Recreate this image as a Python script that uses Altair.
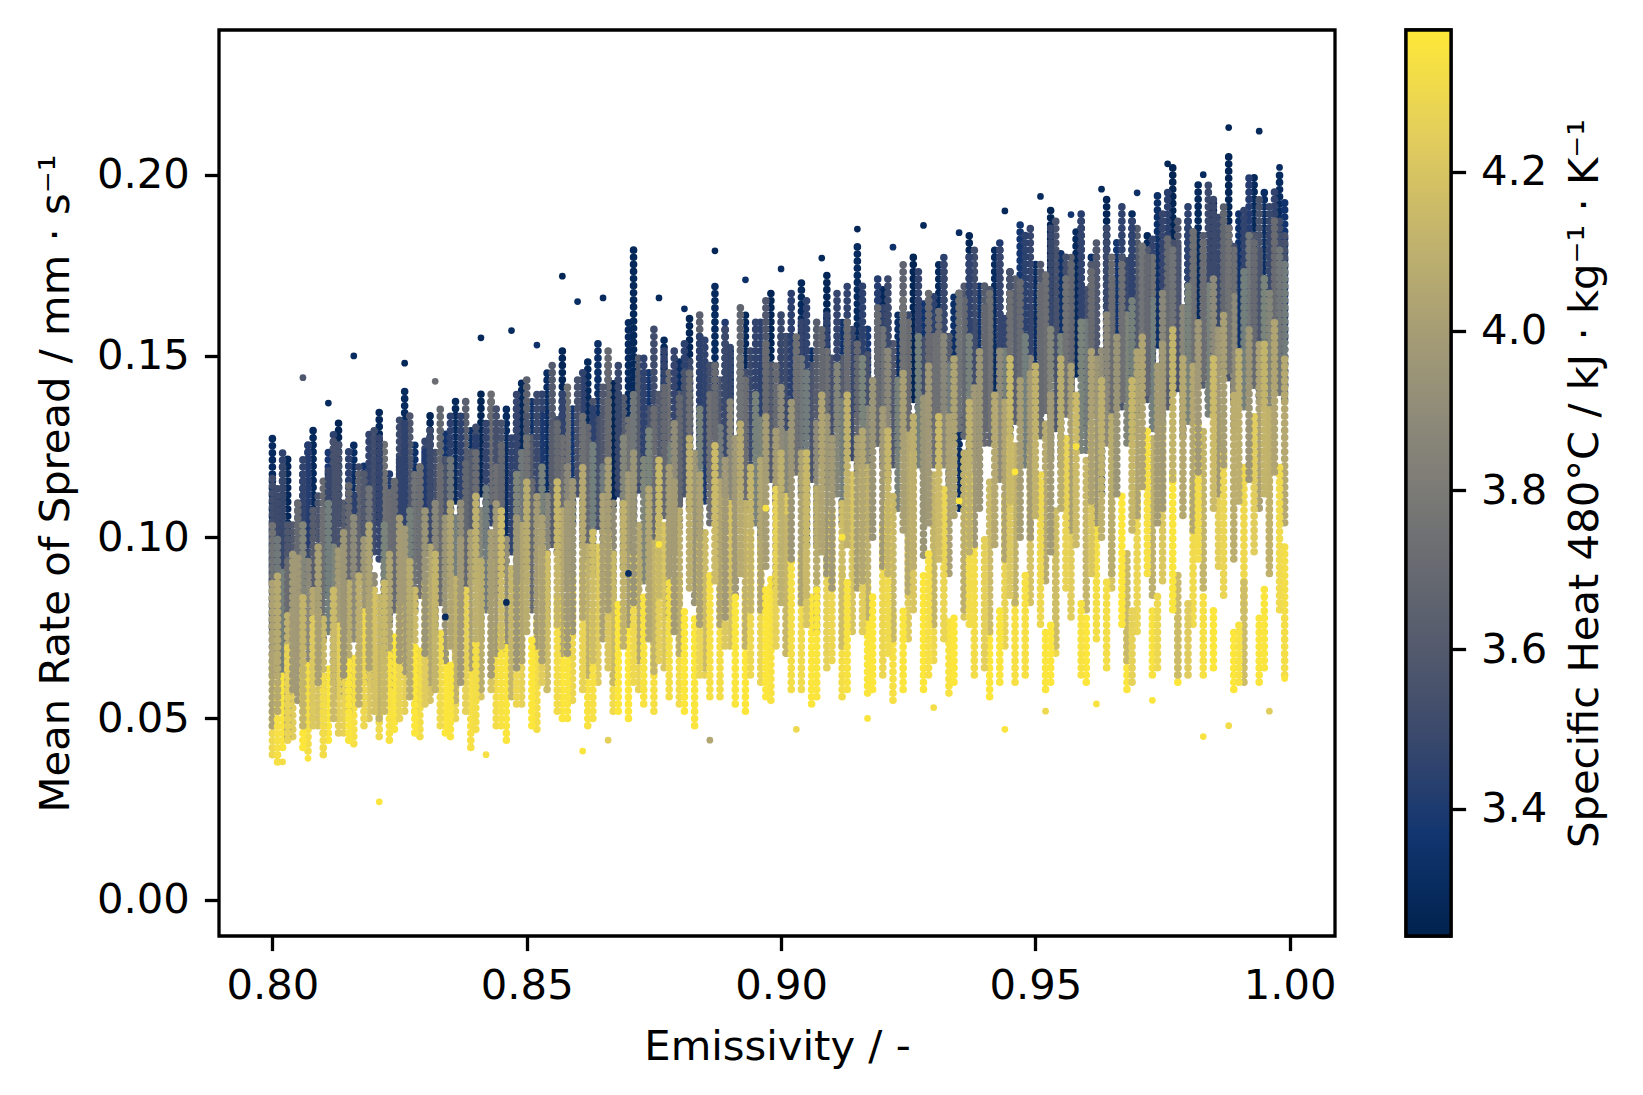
import altair as alt
import pandas as pd

# ---------------------------------------------------------------------------
# Data.
# Each streak: (emissivity x1000, specific heat [kJ/kg/K], spread low x1000, spread high x1000)
# ---------------------------------------------------------------------------
navy_streaks = [
    (800, 3.30, 88, 128), (801, 3.36, 62, 112), (803, 3.35, 48, 78), (803, 3.27, 96, 122),
    (806, 3.34, 84, 118), (808, 3.29, 100, 131), (811, 3.38, 90, 124), (813, 3.26, 104, 133),
    (816, 3.31, 92, 127), (818, 3.35, 98, 121), (821, 3.28, 105, 136), (823, 3.40, 88, 119),
    (826, 3.30, 101, 141), (828, 3.33, 94, 126), (831, 3.27, 108, 134), (834, 3.36, 99, 129),
    (836, 3.29, 110, 138), (839, 3.32, 96, 131), (841, 3.26, 112, 140), (844, 3.38, 104, 133),
    (846, 3.30, 100, 137), (849, 3.28, 115, 143), (851, 3.35, 106, 139), (854, 3.31, 110, 146),
    (857, 3.27, 118, 152), (859, 3.37, 104, 136), (862, 3.29, 113, 149), (864, 3.33, 120, 154),
    (867, 3.26, 109, 143), (870, 3.30, 118, 160), (871, 3.28, 140, 180), (874, 3.36, 112, 147),
    (877, 3.29, 121, 155), (880, 3.32, 115, 150), (882, 3.27, 125, 161), (885, 3.39, 110, 144),
    (887, 3.30, 128, 170), (890, 3.34, 118, 153), (893, 3.28, 124, 162), (896, 3.31, 114, 149),
    (898, 3.26, 130, 168), (901, 3.37, 120, 157), (904, 3.29, 127, 171), (905, 3.31, 98, 125),
    (906, 3.33, 118, 152), (909, 3.27, 133, 174), (912, 3.35, 122, 160), (915, 3.30, 135, 182),
    (917, 3.38, 126, 158), (920, 3.28, 131, 170), (923, 3.32, 124, 163), (926, 3.26, 138, 178),
    (928, 3.36, 129, 165), (931, 3.29, 134, 176), (934, 3.33, 127, 168), (935, 3.31, 108, 135),
    (937, 3.27, 142, 184), (939, 3.35, 132, 170), (942, 3.30, 138, 181), (945, 3.28, 130, 174),
    (947, 3.37, 143, 188), (950, 3.31, 136, 177), (953, 3.26, 147, 192), (955, 3.34, 139, 180),
    (958, 3.29, 145, 186), (961, 3.32, 138, 179), (963, 3.27, 112, 140), (964, 3.27, 150, 195),
    (966, 3.36, 142, 183), (969, 3.30, 148, 190), (972, 3.28, 140, 185), (974, 3.33, 153, 196),
    (977, 3.26, 147, 203), (980, 3.35, 144, 188), (982, 3.29, 156, 199), (985, 3.31, 149, 194),
    (988, 3.27, 152, 206), (990, 3.34, 146, 190), (993, 3.28, 158, 201), (995, 3.32, 150, 196),
    (998, 3.30, 143, 201), (999, 3.36, 155, 194),
]

dusk_streaks = [
    (802, 3.48, 92, 120), (805, 3.62, 80, 110), (807, 3.41, 98, 126), (810, 3.70, 86, 116),
    (812, 3.55, 95, 128), (815, 3.44, 100, 124), (817, 3.66, 88, 118), (820, 3.52, 96, 130),
    (822, 3.74, 102, 127), (825, 3.46, 90, 122), (827, 3.58, 106, 135), (830, 3.40, 96, 124),
    (833, 3.68, 100, 136), (835, 3.50, 92, 120), (838, 3.63, 108, 139), (840, 3.43, 98, 128),
    (843, 3.72, 110, 141), (845, 3.56, 102, 132), (848, 3.47, 106, 140), (850, 3.65, 112, 144),
    (853, 3.39, 104, 135), (855, 3.60, 116, 148), (858, 3.75, 108, 142), (861, 3.45, 114, 146),
    (863, 3.57, 106, 138), (866, 3.69, 118, 152), (868, 3.42, 112, 145), (872, 3.61, 116, 150),
    (875, 3.51, 124, 158), (878, 3.73, 114, 146), (881, 3.44, 120, 154), (884, 3.64, 126, 162),
    (886, 3.53, 116, 149), (889, 3.40, 122, 160), (892, 3.67, 128, 164), (894, 3.49, 118, 152),
    (897, 3.59, 126, 166), (900, 3.71, 120, 156), (902, 3.43, 130, 168), (907, 3.62, 124, 160),
    (910, 3.54, 118, 150), (913, 3.46, 128, 170), (916, 3.70, 122, 158), (919, 3.41, 132, 172),
    (921, 3.58, 126, 164), (924, 3.66, 134, 176), (927, 3.48, 128, 166), (930, 3.74, 120, 156),
    (932, 3.44, 136, 178), (936, 3.60, 130, 170), (938, 3.52, 138, 180), (941, 3.68, 126, 166),
    (943, 3.40, 140, 182), (946, 3.63, 132, 172), (949, 3.47, 142, 186), (951, 3.72, 128, 168),
    (954, 3.55, 144, 188), (957, 3.65, 136, 178), (959, 3.42, 146, 190), (962, 3.59, 140, 182),
    (965, 3.70, 132, 172), (967, 3.45, 148, 192), (970, 3.61, 142, 186), (973, 3.75, 136, 178),
    (976, 3.43, 150, 196), (978, 3.57, 144, 188), (981, 3.67, 140, 184), (984, 3.49, 152, 198),
    (987, 3.62, 146, 192), (989, 3.73, 138, 180), (992, 3.41, 154, 200), (994, 3.56, 148, 194),
    (996, 3.69, 142, 186), (997, 3.46, 156, 197),
]

slate_streaks = [
    (800, 3.52, 75, 118), (802, 3.45, 86, 124), (804, 3.60, 70, 105), (807, 3.48, 90, 127),
    (809, 3.56, 80, 112), (812, 3.44, 93, 129), (814, 3.62, 78, 110), (817, 3.50, 88, 121),
    (819, 3.46, 95, 130), (822, 3.58, 84, 117), (825, 3.49, 97, 133), (827, 3.63, 86, 114),
    (830, 3.47, 99, 128), (832, 3.54, 90, 124), (835, 3.44, 102, 135), (838, 3.60, 92, 121),
    (840, 3.51, 97, 131), (843, 3.46, 104, 138), (845, 3.57, 95, 126), (848, 3.48, 108, 137),
    (851, 3.62, 96, 129), (853, 3.45, 110, 141), (856, 3.53, 101, 133), (858, 3.59, 106, 136),
    (861, 3.47, 112, 145), (864, 3.55, 103, 134), (866, 3.44, 116, 148), (869, 3.61, 107, 139),
    (872, 3.49, 113, 146), (874, 3.56, 104, 136), (877, 3.46, 118, 152), (880, 3.63, 110, 141),
    (882, 3.50, 115, 149), (885, 3.45, 121, 156), (888, 3.58, 112, 144), (890, 3.48, 119, 153),
    (893, 3.54, 114, 147), (896, 3.44, 124, 160), (898, 3.60, 116, 148), (901, 3.51, 122, 157),
    (904, 3.47, 124, 160), (906, 3.57, 116, 148), (909, 3.45, 126, 162), (912, 3.62, 118, 150),
    (914, 3.49, 122, 158), (917, 3.55, 117, 152), (920, 3.46, 128, 164), (922, 3.59, 120, 154),
    (925, 3.48, 126, 162), (928, 3.53, 119, 156), (930, 3.44, 131, 167), (933, 3.61, 122, 157),
    (936, 3.50, 128, 164), (938, 3.46, 123, 160), (941, 3.57, 131, 169), (944, 3.47, 125, 162),
    (946, 3.63, 134, 167), (949, 3.52, 128, 165), (952, 3.45, 135, 174), (954, 3.58, 130, 166),
    (957, 3.49, 137, 176), (960, 3.54, 131, 170), (962, 3.44, 140, 180), (965, 3.60, 133, 171),
    (968, 3.48, 139, 178), (970, 3.56, 134, 173), (973, 3.46, 143, 183), (976, 3.62, 136, 174),
    (978, 3.50, 141, 181), (981, 3.45, 145, 186), (984, 3.57, 138, 177), (986, 3.48, 147, 189),
    (989, 3.53, 141, 182), (992, 3.46, 145, 186), (994, 3.60, 139, 180), (997, 3.49, 148, 191),
    (999, 3.55, 142, 184),
]

slate_streaks_b = [
    (801, 3.50, 80, 115), (803, 3.58, 72, 104), (806, 3.46, 88, 122), (808, 3.62, 76, 108),
    (811, 3.48, 85, 120), (813, 3.55, 92, 126), (816, 3.44, 80, 112), (818, 3.60, 88, 118),
    (821, 3.47, 94, 128), (824, 3.53, 84, 116), (826, 3.45, 98, 132), (829, 3.59, 88, 120),
    (831, 3.49, 96, 130), (834, 3.56, 90, 122), (837, 3.44, 100, 134), (839, 3.61, 92, 124),
    (842, 3.47, 98, 132), (844, 3.54, 104, 136), (847, 3.45, 96, 128), (850, 3.58, 102, 134),
    (852, 3.49, 108, 140), (855, 3.62, 98, 130), (857, 3.46, 106, 140), (860, 3.55, 112, 144),
    (863, 3.44, 104, 136), (865, 3.59, 110, 142), (868, 3.48, 114, 148), (871, 3.53, 106, 140),
    (873, 3.45, 116, 150), (876, 3.60, 108, 140), (879, 3.47, 118, 152), (881, 3.56, 112, 146),
    (884, 3.44, 120, 156), (887, 3.58, 114, 148), (889, 3.49, 122, 158), (892, 3.54, 116, 150),
    (895, 3.46, 124, 160), (897, 3.61, 118, 152), (900, 3.48, 126, 162), (903, 3.55, 120, 154),
    (905, 3.45, 128, 166), (908, 3.59, 122, 156), (911, 3.47, 130, 168), (913, 3.53, 124, 160),
    (916, 3.44, 132, 170), (919, 3.60, 126, 162), (921, 3.49, 134, 172), (924, 3.56, 128, 164),
    (927, 3.46, 136, 174), (929, 3.58, 130, 166), (932, 3.48, 138, 176), (935, 3.54, 132, 168),
    (937, 3.45, 140, 178), (940, 3.61, 134, 170), (943, 3.47, 142, 180), (945, 3.55, 136, 174),
    (948, 3.44, 144, 184), (951, 3.59, 138, 176), (953, 3.48, 146, 186), (956, 3.53, 140, 178),
    (959, 3.46, 148, 188), (961, 3.60, 134, 176), (964, 3.49, 142, 186), (967, 3.56, 136, 178),
    (969, 3.45, 144, 188), (972, 3.58, 138, 180), (975, 3.47, 146, 190), (977, 3.54, 140, 182),
    (980, 3.44, 148, 192), (983, 3.61, 142, 184), (985, 3.49, 150, 194), (988, 3.55, 144, 186),
    (991, 3.46, 147, 192), (993, 3.59, 142, 184), (996, 3.48, 148, 192), (998, 3.53, 144, 188),
]

grey_streaks = [
    (800, 3.75, 62, 104), (802, 3.82, 55, 92), (805, 3.70, 68, 110), (807, 3.88, 58, 95),
    (810, 3.73, 72, 108), (812, 3.85, 60, 98), (815, 3.69, 75, 115), (818, 3.79, 64, 101),
    (820, 3.90, 58, 90), (823, 3.72, 77, 113), (825, 3.84, 66, 103), (828, 3.76, 80, 118),
    (831, 3.89, 64, 97), (833, 3.71, 82, 120), (836, 3.81, 70, 106), (838, 3.68, 85, 122),
    (841, 3.86, 72, 108), (844, 3.74, 84, 121), (846, 3.91, 68, 100), (849, 3.78, 88, 125),
    (851, 3.70, 80, 117), (854, 3.87, 76, 112), (857, 3.73, 92, 128), (859, 3.83, 82, 116),
    (862, 3.69, 95, 131), (865, 3.80, 86, 120), (867, 3.90, 78, 110), (870, 3.75, 97, 134),
    (873, 3.85, 88, 123), (875, 3.71, 100, 137), (878, 3.82, 90, 126), (880, 3.68, 103, 140),
    (883, 3.88, 86, 118), (886, 3.74, 104, 141), (888, 3.79, 95, 131), (891, 3.91, 88, 121),
    (893, 3.72, 108, 145), (896, 3.84, 97, 133), (899, 3.70, 110, 148), (901, 3.86, 95, 129),
    (904, 3.77, 112, 150), (907, 3.89, 98, 132), (909, 3.73, 114, 152), (912, 3.81, 104, 139),
    (915, 3.69, 118, 155), (917, 3.87, 102, 136), (920, 3.76, 120, 158), (923, 3.83, 108, 144),
    (925, 3.71, 122, 160), (928, 3.90, 105, 140), (931, 3.74, 125, 163), (933, 3.80, 112, 149),
    (936, 3.68, 128, 166), (939, 3.86, 110, 146), (941, 3.75, 130, 168), (944, 3.82, 116, 153),
    (947, 3.70, 133, 171), (949, 3.88, 114, 150), (952, 3.73, 135, 173), (955, 3.84, 120, 157),
    (957, 3.69, 138, 176), (960, 3.79, 124, 161), (963, 3.91, 118, 152), (965, 3.72, 140, 178),
    (968, 3.85, 126, 163), (971, 3.76, 143, 181), (973, 3.81, 130, 167), (976, 3.70, 145, 184),
    (979, 3.87, 128, 164), (981, 3.74, 147, 186), (984, 3.83, 134, 171), (987, 3.68, 150, 190),
    (989, 3.89, 131, 168), (992, 3.77, 146, 184), (995, 3.84, 136, 173), (997, 3.71, 148, 188),
    (999, 3.80, 138, 176),
]

grey_streaks_b = [
    (801, 3.78, 66, 100), (803, 3.71, 58, 94), (806, 3.86, 70, 104), (809, 3.74, 62, 98),
    (811, 3.81, 74, 110), (814, 3.69, 66, 102), (816, 3.89, 72, 106), (819, 3.76, 78, 114),
    (822, 3.84, 68, 104), (824, 3.70, 80, 116), (827, 3.82, 72, 108), (829, 3.73, 84, 120),
    (832, 3.87, 74, 110), (835, 3.77, 86, 122), (837, 3.90, 76, 110), (840, 3.72, 88, 124),
    (842, 3.80, 80, 114), (845, 3.69, 90, 126), (848, 3.85, 82, 118), (850, 3.75, 92, 128),
    (853, 3.83, 84, 120), (856, 3.70, 96, 132), (858, 3.88, 86, 120), (861, 3.74, 98, 134),
    (863, 3.81, 90, 126), (866, 3.71, 100, 138), (869, 3.86, 92, 128), (871, 3.77, 104, 140),
    (874, 3.84, 94, 130), (877, 3.69, 106, 142), (879, 3.90, 96, 132), (882, 3.73, 108, 146),
    (884, 3.82, 100, 136), (887, 3.70, 112, 148), (890, 3.87, 102, 138), (892, 3.76, 114, 150),
    (895, 3.83, 104, 140), (897, 3.71, 116, 154), (900, 3.89, 106, 142), (903, 3.74, 118, 156),
    (905, 3.80, 110, 146), (908, 3.69, 120, 158), (911, 3.86, 112, 148), (913, 3.72, 124, 160),
    (916, 3.84, 114, 150), (919, 3.70, 126, 164), (921, 3.88, 116, 152), (924, 3.75, 128, 166),
    (927, 3.82, 120, 156), (929, 3.71, 130, 168), (932, 3.87, 120, 156), (935, 3.76, 130, 168),
    (937, 3.83, 120, 156), (940, 3.69, 126, 164), (943, 3.89, 116, 152), (945, 3.73, 128, 168),
    (948, 3.81, 120, 156), (951, 3.70, 132, 170), (953, 3.86, 122, 158), (956, 3.75, 134, 172),
    (959, 3.84, 124, 160), (961, 3.71, 136, 174), (964, 3.88, 126, 162), (967, 3.74, 138, 176),
    (969, 3.82, 128, 166), (972, 3.69, 140, 178), (975, 3.87, 130, 168), (977, 3.76, 142, 180),
    (980, 3.83, 132, 170), (983, 3.72, 144, 182), (985, 3.89, 134, 172), (988, 3.75, 146, 186),
    (991, 3.81, 136, 174), (993, 3.70, 142, 182), (996, 3.86, 130, 168), (998, 3.77, 140, 180),
]

khaki_streaks = [
    (800, 4.02, 48, 88), (803, 4.10, 45, 80), (805, 3.97, 55, 95), (808, 4.06, 50, 86),
    (810, 4.14, 46, 78), (813, 3.99, 57, 98), (815, 4.08, 52, 88), (818, 3.96, 60, 100),
    (821, 4.12, 50, 84), (823, 4.03, 58, 96), (826, 3.98, 63, 104), (828, 4.15, 52, 86),
    (831, 4.05, 60, 99), (834, 3.95, 66, 106), (836, 4.11, 55, 90), (839, 4.01, 64, 103),
    (841, 4.08, 58, 95), (844, 3.97, 68, 110), (847, 4.13, 56, 92), (849, 4.04, 66, 105),
    (852, 3.99, 70, 112), (854, 4.16, 58, 94), (857, 4.06, 68, 108), (859, 3.96, 74, 116),
    (862, 4.10, 62, 99), (865, 4.02, 72, 112), (867, 4.14, 60, 96), (870, 3.98, 76, 118),
    (872, 4.07, 66, 104), (875, 4.12, 63, 100), (878, 4.00, 78, 121), (880, 4.09, 68, 108),
    (883, 3.95, 82, 125), (885, 4.15, 64, 102), (888, 4.04, 76, 117), (891, 3.97, 84, 128),
    (893, 4.11, 70, 110), (896, 4.05, 80, 122), (899, 3.99, 86, 130), (901, 4.13, 68, 106),
    (904, 4.03, 82, 125), (907, 4.08, 74, 115), (909, 3.96, 90, 134), (912, 4.16, 70, 110),
    (915, 4.01, 86, 128), (917, 4.10, 78, 120), (920, 3.98, 92, 137), (922, 4.14, 72, 112),
    (925, 4.06, 85, 129), (928, 3.95, 95, 140), (930, 4.12, 76, 118), (933, 4.02, 90, 134),
    (936, 4.09, 80, 124), (938, 3.97, 98, 143), (941, 4.15, 74, 116), (944, 4.04, 94, 138),
    (946, 4.11, 82, 126), (949, 3.99, 100, 146), (952, 4.07, 88, 132), (954, 4.16, 70, 108),
    (957, 4.01, 102, 148), (960, 4.13, 80, 122), (962, 3.96, 104, 150), (965, 4.08, 90, 135),
    (968, 4.14, 66, 96), (970, 4.03, 106, 152), (973, 4.10, 84, 128), (975, 3.98, 108, 155),
    (978, 4.15, 62, 90), (981, 4.05, 102, 148), (983, 4.12, 86, 130), (986, 3.97, 112, 158),
    (989, 4.09, 94, 140), (991, 4.16, 60, 88), (994, 4.02, 108, 154), (996, 4.11, 90, 136),
    (999, 4.06, 104, 150),
]

khaki_streaks_b = [
    (801, 4.07, 52, 90), (804, 3.98, 58, 96), (806, 4.12, 48, 84), (809, 4.01, 60, 98),
    (812, 4.15, 50, 86), (814, 3.96, 62, 102), (817, 4.09, 54, 90), (819, 4.03, 64, 104),
    (822, 4.14, 52, 88), (825, 3.99, 66, 106), (827, 4.08, 56, 94), (830, 3.95, 68, 108),
    (832, 4.12, 58, 96), (835, 4.04, 70, 110), (837, 3.97, 60, 100), (840, 4.10, 72, 112),
    (843, 4.00, 62, 102), (845, 4.15, 70, 108), (848, 3.96, 64, 106), (850, 4.08, 74, 116),
    (853, 4.02, 66, 106), (856, 4.13, 76, 116), (858, 3.98, 68, 110), (861, 4.06, 78, 120),
    (863, 4.16, 66, 102), (866, 4.00, 80, 122), (869, 4.11, 70, 110), (871, 3.95, 82, 124),
    (874, 4.05, 72, 114), (876, 4.14, 84, 122), (879, 3.99, 74, 116), (882, 4.09, 86, 128),
    (884, 4.02, 76, 118), (887, 4.15, 88, 126), (889, 3.97, 78, 122), (892, 4.07, 90, 132),
    (894, 4.12, 80, 120), (897, 4.00, 92, 134), (900, 4.10, 82, 124), (902, 3.96, 94, 138),
    (905, 4.14, 84, 124), (908, 4.04, 96, 140), (910, 3.98, 86, 128), (913, 4.11, 98, 140),
    (916, 4.05, 88, 130), (918, 3.95, 100, 144), (921, 4.13, 90, 130), (924, 4.01, 102, 146),
    (926, 4.09, 92, 134), (929, 3.97, 104, 148), (931, 4.15, 94, 134), (934, 4.03, 106, 150),
    (937, 4.10, 96, 138), (939, 3.96, 108, 152), (942, 4.06, 98, 140), (945, 4.14, 110, 150),
    (947, 4.00, 100, 144), (950, 4.11, 106, 148), (953, 3.98, 96, 140), (955, 4.08, 108, 150),
    (958, 4.15, 98, 140), (961, 4.02, 110, 152), (963, 4.10, 100, 144), (966, 3.95, 112, 156),
    (969, 4.13, 102, 144), (971, 4.04, 114, 156), (974, 3.99, 104, 148), (977, 4.12, 116, 158),
    (979, 4.06, 106, 150), (982, 3.97, 118, 160), (985, 4.15, 108, 150), (987, 4.01, 120, 162),
    (990, 4.09, 110, 152), (992, 3.96, 116, 158), (995, 4.12, 112, 154), (997, 4.04, 118, 160),
]

yellow_streaks = [
    (800, 4.30, 40, 68), (802, 4.36, 42, 62), (804, 4.24, 45, 75), (807, 4.33, 41, 66),
    (809, 4.20, 48, 80), (811, 4.37, 44, 64), (814, 4.27, 46, 72), (816, 4.34, 43, 68),
    (819, 4.22, 50, 84), (821, 4.31, 45, 70), (824, 4.36, 47, 74), (826, 4.25, 52, 86),
    (829, 4.33, 45, 69), (831, 4.19, 55, 90), (834, 4.37, 46, 72), (836, 4.28, 50, 80),
    (839, 4.34, 42, 68), (841, 4.21, 56, 92), (844, 4.32, 48, 76), (846, 4.36, 44, 70),
    (849, 4.26, 54, 88), (852, 4.33, 47, 78), (854, 4.19, 60, 96), (857, 4.37, 50, 82),
    (859, 4.29, 55, 90), (862, 4.35, 48, 76), (864, 4.23, 60, 98), (867, 4.31, 52, 86),
    (870, 4.37, 50, 80), (872, 4.27, 58, 95), (875, 4.34, 52, 88), (877, 4.20, 64, 104),
    (880, 4.32, 54, 90), (883, 4.36, 48, 78), (885, 4.25, 62, 102), (888, 4.33, 56, 94),
    (890, 4.19, 70, 110), (893, 4.37, 52, 86), (896, 4.28, 60, 100), (898, 4.35, 55, 90),
    (901, 4.22, 68, 112), (904, 4.31, 58, 96), (906, 4.37, 54, 84), (909, 4.26, 64, 106),
    (912, 4.33, 56, 92), (914, 4.20, 74, 118), (917, 4.36, 57, 88), (920, 4.29, 62, 104),
    (922, 4.34, 55, 80), (925, 4.23, 72, 116), (928, 4.37, 58, 90), (930, 4.30, 66, 108),
    (933, 4.35, 57, 78), (936, 4.21, 78, 122), (938, 4.32, 62, 98), (941, 4.37, 56, 76),
    (944, 4.27, 70, 112), (946, 4.34, 60, 84), (949, 4.19, 82, 126), (952, 4.36, 58, 74),
    (954, 4.30, 68, 106), (957, 4.24, 78, 120), (960, 4.37, 60, 78), (962, 4.33, 72, 110),
    (965, 4.20, 86, 130), (968, 4.36, 58, 76), (970, 4.28, 74, 114), (973, 4.35, 62, 80),
    (975, 4.22, 88, 132), (978, 4.37, 60, 78), (981, 4.31, 76, 116), (983, 4.34, 62, 84),
    (986, 4.25, 92, 135), (989, 4.37, 58, 74), (991, 4.30, 80, 120), (994, 4.36, 60, 78),
    (996, 4.23, 94, 132), (999, 4.33, 62, 98),
]

yellow_streaks_b = [
    (801, 4.34, 38, 60), (803, 4.27, 44, 70), (806, 4.37, 42, 64), (808, 4.22, 48, 78),
    (810, 4.32, 40, 62), (813, 4.25, 46, 76), (815, 4.36, 44, 66), (818, 4.29, 48, 80),
    (820, 4.19, 52, 86), (823, 4.35, 44, 68), (825, 4.28, 50, 82), (828, 4.37, 46, 70),
    (830, 4.23, 54, 88), (833, 4.31, 48, 74), (835, 4.36, 45, 66), (838, 4.26, 52, 86),
    (840, 4.33, 47, 72), (843, 4.20, 58, 94), (845, 4.35, 48, 76), (848, 4.29, 54, 88),
    (851, 4.37, 48, 72), (853, 4.24, 60, 98), (856, 4.32, 52, 84), (858, 4.36, 50, 76),
    (861, 4.27, 58, 94), (863, 4.34, 50, 80), (866, 4.21, 64, 102), (868, 4.37, 52, 82),
    (871, 4.30, 60, 96), (873, 4.35, 54, 84), (876, 4.25, 66, 106), (878, 4.33, 56, 88),
    (881, 4.37, 52, 80), (884, 4.28, 62, 100), (886, 4.34, 56, 90), (889, 4.22, 70, 112),
    (891, 4.36, 54, 84), (894, 4.30, 62, 102), (897, 4.37, 56, 86), (899, 4.26, 70, 114),
    (902, 4.33, 58, 94), (905, 4.20, 76, 118), (907, 4.36, 56, 86), (910, 4.29, 66, 108),
    (913, 4.35, 58, 88), (916, 4.24, 74, 120), (918, 4.37, 58, 84), (921, 4.31, 68, 110),
    (924, 4.36, 58, 80), (926, 4.21, 80, 124), (929, 4.34, 62, 96), (932, 4.28, 72, 114),
    (934, 4.37, 60, 78), (937, 4.32, 76, 118), (940, 4.25, 64, 100), (943, 4.36, 60, 80),
    (945, 4.22, 84, 128), (948, 4.34, 62, 90), (951, 4.30, 76, 118), (953, 4.37, 60, 76),
    (956, 4.27, 86, 128), (959, 4.35, 62, 82), (961, 4.21, 90, 132), (964, 4.33, 64, 88),
    (967, 4.37, 76, 112), (969, 4.26, 60, 80), (972, 4.34, 90, 130), (974, 4.30, 64, 84),
    (977, 4.36, 80, 118), (980, 4.23, 62, 82), (982, 4.32, 94, 132), (985, 4.37, 64, 80),
    (987, 4.28, 84, 124), (990, 4.35, 60, 76), (993, 4.24, 96, 134), (995, 4.36, 64, 86),
    (998, 4.31, 80, 120),
]

# Isolated points
lone_emissivity = [0.821, 0.816, 0.806, 0.811, 0.826, 0.832, 0.841, 0.847, 0.852, 0.857,
                   0.860, 0.865, 0.876, 0.881, 0.887, 0.893, 0.900, 0.908, 0.915, 0.922,
                   0.928, 0.935, 0.944, 0.951, 0.957, 0.963, 0.970, 0.976, 0.983, 0.988,
                   0.994, 0.998, 0.983, 0.988, 0.944, 0.952, 0.962, 0.973, 0.999, 0.996,
                   0.886, 0.903, 0.917, 0.930, 0.842, 0.861, 0.802, 0.807, 0.866, 0.935,
                   0.946, 0.958, 0.912, 0.897, 0.876, 0.834, 0.846, 0.870]
lone_spread = [0.027, 0.150, 0.144, 0.137, 0.148, 0.143, 0.155, 0.157, 0.153, 0.172,
               0.165, 0.166, 0.166, 0.163, 0.179, 0.171, 0.174, 0.177, 0.185, 0.180,
               0.186, 0.184, 0.190, 0.194, 0.189, 0.196, 0.195, 0.203, 0.200, 0.213,
               0.212, 0.202, 0.045, 0.048, 0.047, 0.052, 0.054, 0.055, 0.061, 0.052,
               0.044, 0.047, 0.050, 0.053, 0.040, 0.041, 0.038, 0.039, 0.044, 0.110,
               0.118, 0.125, 0.100, 0.108, 0.098, 0.078, 0.082, 0.090]
lone_cp = [4.36, 3.31, 3.58, 3.30, 3.28, 3.72, 3.28, 3.30, 3.34, 3.27,
           3.32, 3.30, 3.29, 3.31, 3.27, 3.33, 3.30, 3.28, 3.27, 3.34,
           3.29, 3.31, 3.28, 3.30, 3.36, 3.29, 3.33, 3.27, 3.30, 3.27,
           3.29, 3.31, 4.35, 4.32, 4.36, 4.30, 4.35, 4.37, 4.36, 4.24,
           4.05, 4.30, 4.36, 4.33, 4.34, 4.36, 4.33, 4.36, 4.25, 4.36,
           4.37, 4.35, 4.36, 4.34, 4.37, 3.30, 3.28, 3.31]

CP_MIN, CP_MAX = 3.240, 4.378
CIVIDIS = ["#00224e", "#123570", "#3b496c", "#575d6d", "#707173",
           "#8a8779", "#a69d75", "#c4b56c", "#e4cf5b", "#fee838"]
cp_stops = [CP_MIN + i * (CP_MAX - CP_MIN) / 9 for i in range(10)]

rows = []
for group in (navy_streaks, slate_streaks, dusk_streaks, slate_streaks_b,
              grey_streaks, grey_streaks_b, yellow_streaks, khaki_streaks,
              yellow_streaks_b, khaki_streaks_b):
    for m, cp, lo, hi in group:
        rows.append({"emissivity": m / 1000, "cp": cp, "lo": lo / 1000, "hi": hi / 1000})
streaks = pd.DataFrame(rows)
lone = pd.DataFrame({"emissivity": lone_emissivity, "spread": lone_spread, "cp": lone_cp})

FS = 41.7
FONT = "DejaVu Sans"
TICK = 14.6
LW = 3.3

color_scale = alt.Scale(domain=cp_stops, range=CIVIDIS, type="linear", clamp=True)
x_scale = alt.Scale(domain=[0.7895, 1.0089], nice=False, zero=False)
y_scale = alt.Scale(domain=[-0.0100, 0.2399], nice=False, zero=False)

x_axis = alt.Axis(values=[0.80, 0.85, 0.90, 0.95, 1.00], format=".2f", title="Emissivity / -",
                  titlePadding=19, labelPadding=15)
y_axis = alt.Axis(values=[0.00, 0.05, 0.10, 0.15, 0.20], format=".2f",
                  title="Mean Rate of Spread / mm · s⁻¹", titlePadding=19, labelPadding=15)

rules = alt.Chart(streaks).mark_rule(
    strokeWidth=7.6, strokeCap="round", strokeDash=[0.1, 7.0]
).encode(
    x=alt.X("emissivity:Q", scale=x_scale, axis=x_axis),
    y=alt.Y("lo:Q", scale=y_scale, axis=y_axis),
    y2="hi:Q",
    color=alt.Color("cp:Q", scale=color_scale, legend=None),
)

dots = alt.Chart(lone).mark_circle(size=45, opacity=1).encode(
    x=alt.X("emissivity:Q", scale=x_scale),
    y=alt.Y("spread:Q", scale=y_scale),
    color=alt.Color("cp:Q", scale=color_scale, legend=None),
)

main = alt.layer(rules, dots).properties(width=1116, height=906)

cbar_df = pd.DataFrame({"lo": [CP_MIN], "hi": [CP_MAX]})
gradient = alt.LinearGradient(
    gradient="linear",
    stops=[alt.GradientStop(color=c, offset=i / 9) for i, c in enumerate(CIVIDIS)],
    x1=0, x2=0, y1=1, y2=0,
)
cbar = alt.Chart(cbar_df).mark_rect(fill=gradient, stroke="black", strokeWidth=LW).encode(
    x=alt.value(0), x2=alt.value(45),
    y=alt.Y("lo:Q", scale=alt.Scale(domain=[CP_MIN, CP_MAX], nice=False, zero=False),
            axis=alt.Axis(orient="right", values=[3.4, 3.6, 3.8, 4.0, 4.2], format=".1f",
                          title="Specific Heat 480°C / kJ · kg⁻¹ · K⁻¹",
                          titleAngle=270, titleBaseline="top", titlePadding=18,
                          labelPadding=15)),
    y2="hi:Q",
).properties(width=45, height=906)

chart = alt.hconcat(main, cbar, spacing=64).properties(
    padding={"left": 25, "top": 18, "right": 5, "bottom": 5}
).configure(
    font=FONT,
).configure_view(
    stroke="black", strokeWidth=LW,
).configure_axis(
    grid=False, domain=False,
    tickSize=TICK, tickWidth=LW, tickColor="black",
    labelFont=FONT, labelFontSize=FS, labelColor="black",
    titleFont=FONT, titleFontSize=FS, titleFontWeight="normal", titleColor="black",
)

chart.save("out.html", embed_options={"renderer": "svg", "actions": False})
